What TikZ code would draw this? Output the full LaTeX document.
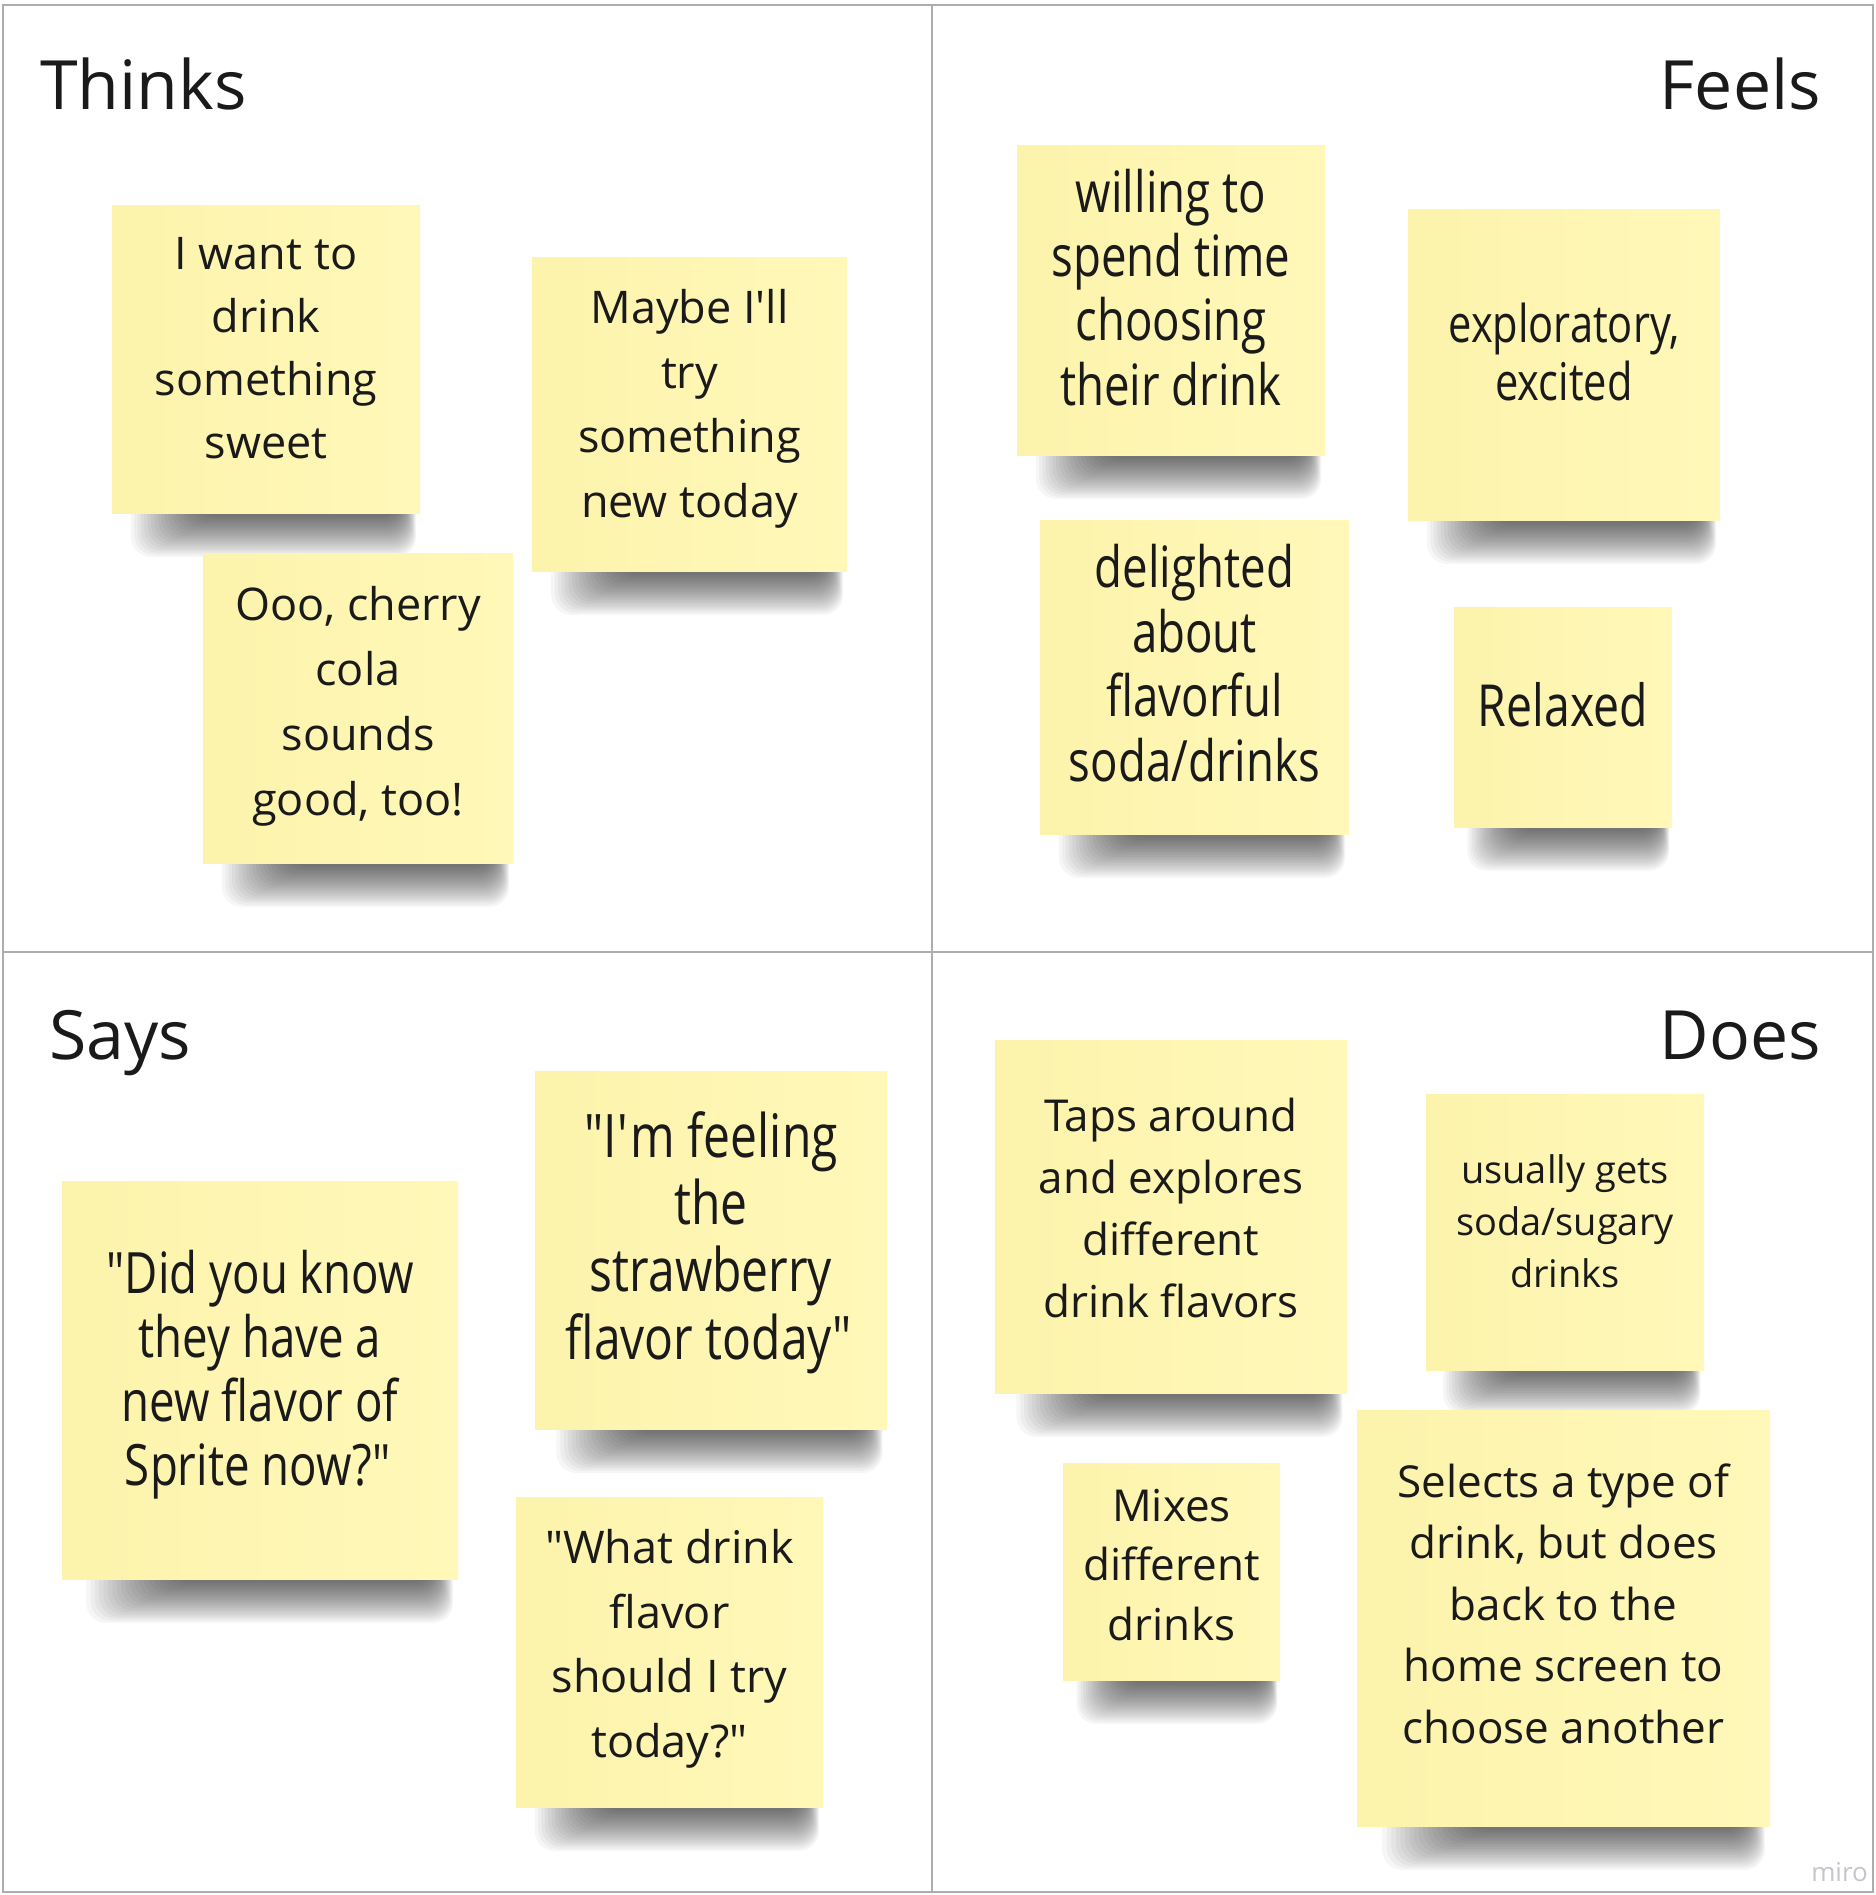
\documentclass[tikz,border=0pt]{standalone}
\usepackage{fontspec}
\setmainfont{Open Sans}
\newfontfamily\narrowsans{Open Sans}[FakeStretch=0.8]

\definecolor{framegray}{HTML}{ADADAD}
\definecolor{inkblack}{HTML}{1A1A1A}
\definecolor{notelight}{HTML}{FFF8B8}
\definecolor{notedark}{HTML}{FCF3AC}
\definecolor{watermark}{HTML}{C5C5CD}

\pgfdeclarelayer{paper}
\pgfdeclarelayer{shadows}
\pgfsetlayers{paper,shadows,main}

\newcommand\dq{\textquotedbl}
\newcommand\ndq{\textquotedbl\kern-0.07em}
\newcommand\sq{\textquotesingle}

\tikzset{
  stickybox/.style={rectangle, inner sep=0pt, draw=none, left color=notedark, right color=notelight},
  notetext/.style={anchor=base, align=center, text=inkblack, inner sep=0pt},
  quadtitle/.style={text=inkblack, inner sep=0pt, font=\fontsize{68}{80}\selectfont},
  shadowlayer/.style={fill=black, fill opacity=0.036, rounded corners=20pt},
  framerule/.style={draw=framegray, line width=2pt},
}

% #1 name, (#2,#3) top left, (#4,#5) bottom right, in pixels
% the drop shadow is a stack of faint rounded bands that narrow downwards
\newcommand\stickynote[5]{%
  \pgfmathsetmacro\stkw{#4-#2}%
  \pgfmathsetmacro\stkh{#5-#3}%
  \pgfmathsetmacro\stkx{(#2+#4)/2}%
  \pgfmathsetmacro\stky{(#3+#5)/2}%
  \begin{pgfonlayer}{shadows}
    \foreach \i in {1,...,20}{
      \fill[shadowlayer] (#2+0.05*\stkw+0.011*\stkw*\i,#5-22) rectangle (#4-0.01*\stkw-0.0025*\stkw*\i,#5+46-2.1*\i);
    }
  \end{pgfonlayer}
  \node[stickybox, minimum width=\stkw pt, minimum height=\stkh pt] (#1) at (\stkx,\stky) {};
}

\begin{document}
\begin{tikzpicture}[x=1pt, y=-1pt]
  \useasboundingbox (0,0) rectangle (1876,1895);
  \begin{pgfonlayer}{paper}
    \fill[white] (0,0) rectangle (1876,1895);
  \end{pgfonlayer}

  % quadrant frame
  \draw[framerule] (3,5) rectangle (1873,1892);
  \draw[framerule] (932,5) -- (932,1892);
  \draw[framerule] (3,952) -- (1873,952);

  % quadrant titles
  \node[quadtitle, anchor=base west] (thinks) at (40,109) {Thinks};
  \node[quadtitle, anchor=base east] (feels) at (1821,109) {Feels};
  \node[quadtitle, anchor=base west] (says) at (49,1059) {Says};
  \node[quadtitle, anchor=base east] (does) at (1821,1059) {Does};

  % Thinks (text nodes sit on the baseline of their last line)
  \stickynote{s1}{112}{205}{420}{513}
  \node[notetext, font=\fontsize{45}{63}\selectfont] (s1text) at (266,458)
    {I want to\\drink\\something\\sweet};
  \stickynote{s2}{532}{257}{847}{571}
  \node[notetext, font=\fontsize{45}{64.5}\selectfont] (s2text) at (689.5,517)
    {Maybe I\sq ll\\try\\something\\new today};
  \stickynote{s3}{203}{553}{513}{863}
  \node[notetext, font=\fontsize{45}{65}\selectfont] (s3text) at (358,815)
    {Ooo, cherry\\cola\\sounds\\good, too!};

  % Feels
  \stickynote{s4}{1017}{145}{1325}{455}
  \node[notetext, font=\narrowsans\fontsize{57}{64.2}\selectfont] (s4text) at (1171,405)
    {willing to\\spend time\\choosing\\their drink};
  \stickynote{s5}{1408}{209}{1720}{520}
  \node[notetext, font=\narrowsans\fontsize{52}{58}\selectfont] (s5text) at (1564,400)
    {exploratory,\\excited};
  \stickynote{s6}{1040}{520}{1349}{834}
  \node[notetext, font=\narrowsans\fontsize{57}{64.5}\selectfont] (s6text) at (1194.5,781)
    {delighted\\about\\flavorful\\soda/drinks};
  \stickynote{s7}{1454}{607}{1672}{827}
  \node[notetext, font=\narrowsans\fontsize{58}{65}\selectfont] (s7text) at (1563,726)
    {Relaxed};

  % Says
  \stickynote{s8}{62}{1181}{458}{1579}
  \node[notetext, font=\narrowsans\fontsize{57}{63.7}\selectfont] (s8text) at (260,1485)
    {\ndq Did you know\\they have a\\new flavor of\\Sprite now?\dq};
  \stickynote{s9}{535}{1071}{887}{1429}
  \node[notetext, font=\narrowsans\fontsize{60}{67.3}\selectfont] (s9text) at (711,1359)
    {\ndq I\sq m feeling\\the\\strawberry\\flavor today\dq};
  \stickynote{s10}{516}{1497}{823}{1807}
  \node[notetext, font=\fontsize{45}{64.5}\selectfont] (s10text) at (669.5,1757)
    {\dq What drink\\flavor\\should I try\\today?\dq};

  % Does
  \stickynote{s11}{995}{1040}{1347}{1393}
  \node[notetext, font=\fontsize{44}{62}\selectfont] (s11text) at (1171,1317)
    {Taps around\\and explores\\different\\drink flavors};
  \stickynote{s12}{1426}{1094}{1704}{1370}
  \node[notetext, font=\fontsize{38}{52}\selectfont] (s12text) at (1565,1287)
    {usually gets\\soda/sugary\\drinks};
  \stickynote{s13}{1063}{1463}{1280}{1680}
  \node[notetext, font=\fontsize{44}{59.5}\selectfont] (s13text) at (1171.5,1640)
    {Mixes\\different\\drinks};
  \stickynote{s14}{1357}{1410}{1770}{1826}
  \node[notetext, font=\fontsize{44}{61.5}\selectfont] (s14text) at (1563.5,1743)
    {Selects a type of\\drink, but does\\back to the\\home screen to\\choose another};

  % board watermark
  \node[anchor=base east, inner sep=0pt, text=watermark, font=\fontsize{26}{30}\selectfont] (brand) at (1868,1881) {miro};
\end{tikzpicture}
\end{document}
